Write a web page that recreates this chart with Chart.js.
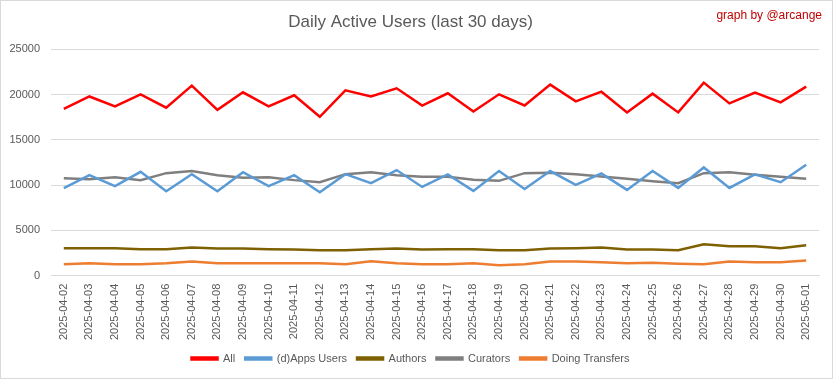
<!DOCTYPE html>
<html>
<head>
<meta charset="utf-8">
<script src="https://cdn.jsdelivr.net/npm/chart.js@4.4.1/dist/chart.umd.min.js"></script>
<style>
  html, body { margin: 0; padding: 0; background: #fff; }
  #wrap { position: relative; width: 833px; height: 379px; box-sizing: border-box; border: 1px solid #d9d9d9; }
  #credit { position: absolute; right: 10px; top: 7px; color: #c00000; font: 12px "Liberation Sans", Arial, sans-serif; }
</style>
</head>
<body>
<div id="wrap">
  <canvas id="dau" width="831" height="377"></canvas>
  <div id="credit">graph by @arcange</div>
</div>
<script>
var days = [
  "2025-04-02", "2025-04-03", "2025-04-04", "2025-04-05", "2025-04-06", "2025-04-07",
  "2025-04-08", "2025-04-09", "2025-04-10", "2025-04-11", "2025-04-12", "2025-04-13",
  "2025-04-14", "2025-04-15", "2025-04-16", "2025-04-17", "2025-04-18", "2025-04-19",
  "2025-04-20", "2025-04-21", "2025-04-22", "2025-04-23", "2025-04-24", "2025-04-25",
  "2025-04-26", "2025-04-27", "2025-04-28", "2025-04-29", "2025-04-30", "2025-05-01"
];

var allUsers = [18440, 19800, 18700, 20040, 18560, 21000, 18330, 20260, 18700, 19930,
  17560, 20480, 19810, 20700, 18800, 20150, 18150, 20040, 18810, 21110,
  19260, 20330, 18040, 20110, 18040, 21330, 19040, 20220, 19150, 20890];

var appsUsers = [9670, 11110, 9890, 11480, 9330, 11220, 9330, 11440, 9890, 11110,
  9220, 11220, 10220, 11670, 9810, 11190, 9370, 11560, 9590, 11560,
  10040, 11300, 9480, 11560, 9700, 11960, 9700, 11190, 10330, 12260];

var authors = [3040, 3040, 3040, 2930, 2930, 3110, 3000, 3000, 2930, 2890,
  2810, 2810, 2930, 3000, 2890, 2930, 2930, 2810, 2810, 3000,
  3040, 3110, 2890, 2890, 2810, 3480, 3260, 3260, 3040, 3370];

var curators = [10780, 10670, 10890, 10560, 11330, 11560, 11110, 10810, 10890, 10560,
  10330, 11220, 11440, 11110, 10930, 10930, 10590, 10480, 11330, 11370,
  11220, 10960, 10700, 10440, 10220, 11330, 11440, 11150, 10930, 10700];

var transfers = [1260, 1370, 1260, 1260, 1370, 1560, 1370, 1370, 1370, 1370,
  1370, 1260, 1590, 1370, 1260, 1260, 1370, 1150, 1260, 1560,
  1560, 1480, 1370, 1440, 1330, 1260, 1560, 1480, 1480, 1670];

var yTicks = [0, 5000, 10000, 15000, 20000, 25000];

var seriesNames = ["All", "(d)Apps Users", "Authors", "Curators", "Doing Transfers"];
var seriesColors = ["#ff0000", "#5b9bd5", "#7f6000", "#7f7f7f", "#ed7d31"];
var seriesData = [allUsers, appsUsers, authors, curators, transfers];

var datasets = [];
for (var i = 0; i < seriesNames.length; i++) {
  datasets.push({
    label: seriesNames[i],
    data: seriesData[i],
    borderColor: seriesColors[i],
    backgroundColor: seriesColors[i],
    borderWidth: 2.5,
    pointRadius: 0,
    tension: 0
  });
}

var font = "'Liberation Sans', Arial, sans-serif";

new Chart(document.getElementById("dau"), {
  type: "line",
  data: { labels: days, datasets: datasets },
  options: {
    responsive: false,
    animation: false,
    layout: { padding: { left: 1, right: 13, top: 0, bottom: 4 } },
    plugins: {
      title: {
        display: true,
        text: "Daily Active Users (last 30 days)",
        color: "#595959",
        font: { family: font, size: 17, weight: "normal" },
        padding: { top: 11, bottom: 17 }
      },
      legend: {
        position: "bottom",
        labels: {
          color: "#595959",
          font: { family: font, size: 11 },
          boxWidth: 26,
          boxHeight: 2,
          padding: 10
        }
      },
      tooltip: { enabled: false }
    },
    scales: {
      x: {
        offset: true,
        grid: { display: false, drawTicks: false },
        border: { color: "#d9d9d9" },
        afterFit: function (axis) { axis.height = axis.height - 5; },
        ticks: {
          color: "#595959",
          font: { family: font, size: 11 },
          minRotation: 90,
          maxRotation: 90,
          autoSkip: false,
          padding: 8
        }
      },
      y: {
        min: 0,
        max: 25000,
        afterBuildTicks: function (axis) {
          axis.ticks = yTicks.map(function (v) { return { value: v }; });
        },
        afterFit: function (axis) { axis.width = 49; },
        grid: { color: "#d9d9d9", drawTicks: false },
        border: { display: false },
        ticks: {
          color: "#595959",
          font: { family: font, size: 11 },
          padding: 11,
          callback: function (v) { return String(v); }
        }
      }
    }
  }
});
</script>
</body>
</html>
